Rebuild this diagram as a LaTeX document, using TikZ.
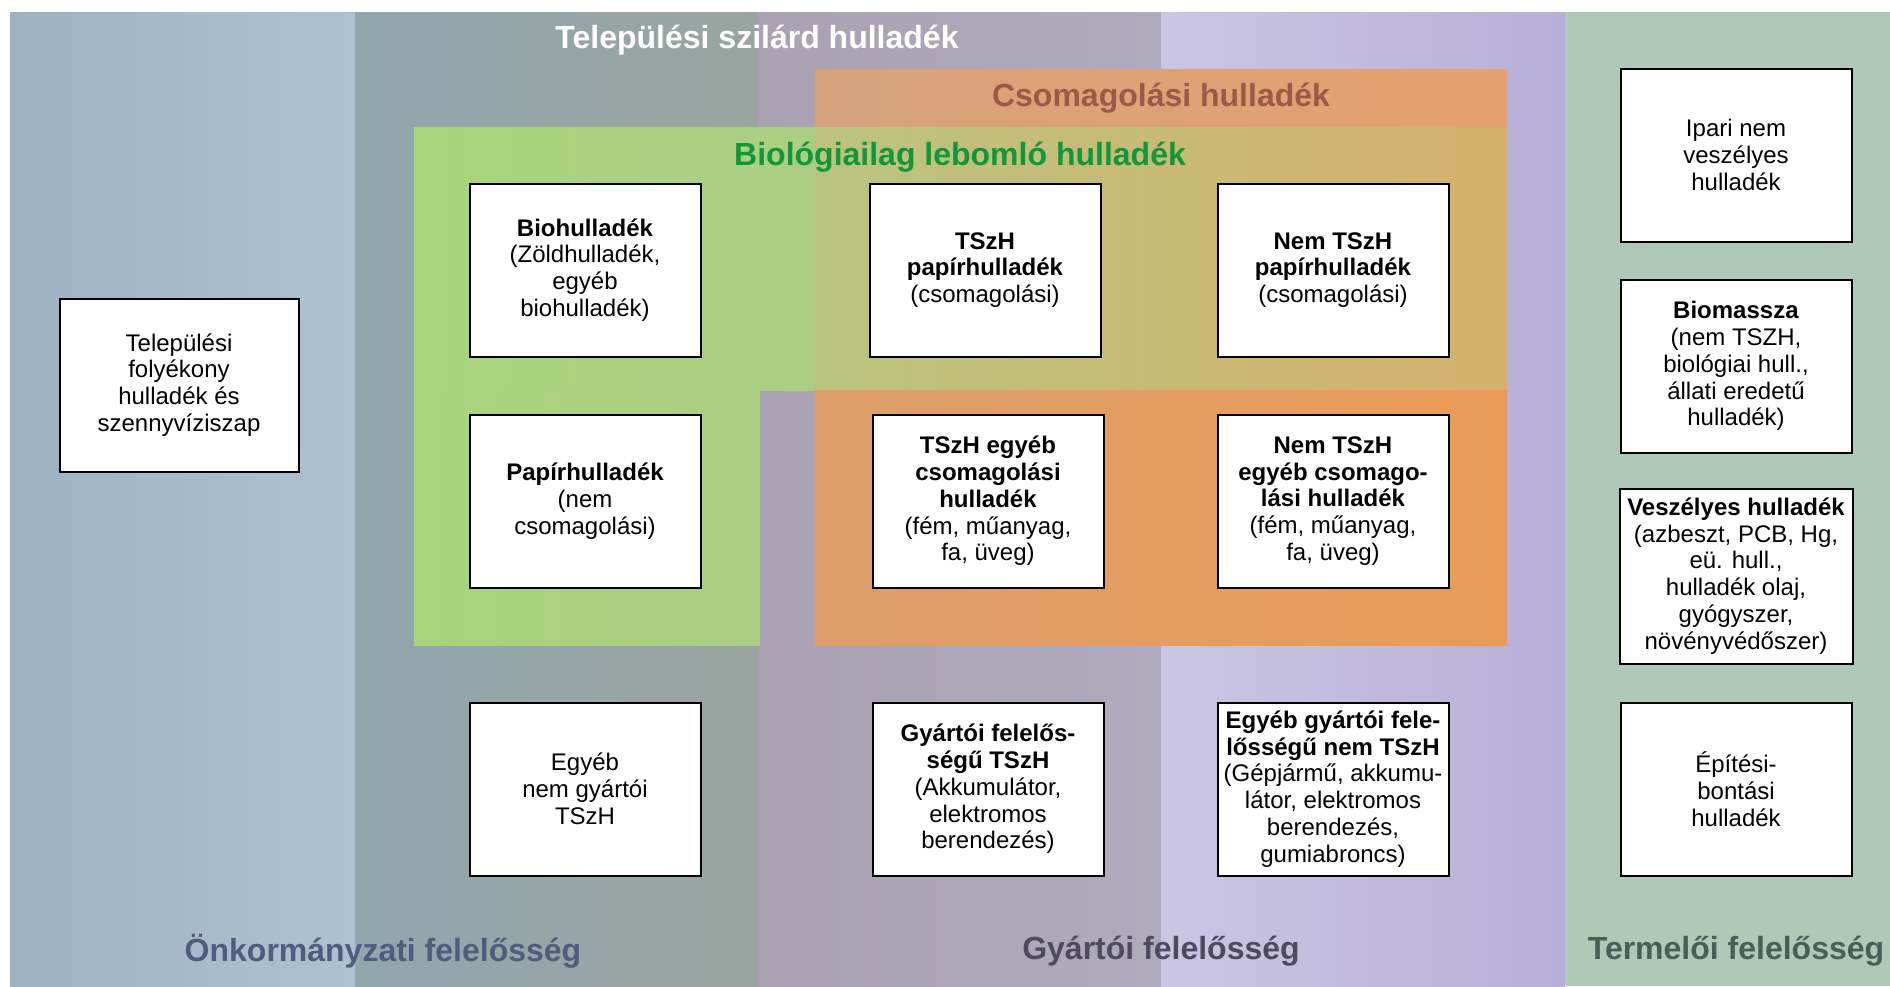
\documentclass[tikz,border=0pt]{standalone}
\usepackage{fontspec}
\setmainfont{Liberation Sans}
\usepackage{xcolor}
\usepackage{tikz}
\usetikzlibrary{positioning}
\definecolor{onkL}{RGB}{157,178,196}
\definecolor{onkR}{RGB}{174,193,208}
\definecolor{tszL}{RGB}{146,166,174}
\definecolor{tszR}{RGB}{154,165,160}
\definecolor{gyaL}{RGB}{170,162,178}
\definecolor{gyaR}{RGB}{176,170,190}
\definecolor{levL}{RGB}{202,198,228}
\definecolor{levR}{RGB}{184,174,214}
\definecolor{termC}{RGB}{175,201,184}
\definecolor{csoL}{RGB}{214,162,124}
\definecolor{csoR}{RGB}{230,161,112}
\definecolor{mixL}{RGB}{187,196,127}
\definecolor{mixR}{RGB}{212,176,108}
\definecolor{bioL}{RGB}{168,212,124}
\definecolor{bioR}{RGB}{172,206,132}
\definecolor{narL}{RGB}{221,158,106}
\definecolor{narR}{RGB}{234,155,88}
\definecolor{csoTxt}{RGB}{155,90,72}
\definecolor{bioTxt}{RGB}{18,150,58}
\definecolor{onkTxt}{RGB}{80,92,125}
\definecolor{gyaTxt}{RGB}{78,74,96}
\definecolor{termTxt}{RGB}{68,96,89}
\tikzset{box/.style={rectangle,draw=black,line width=1pt,fill=white,minimum width=115.5pt,minimum height=86.5pt,inner sep=2pt,align=center,font=\fontsize{12}{13.4}\selectfont}}
\tikzset{head/.style={inner sep=0pt,font=\fontsize{16}{19}\selectfont\bfseries}}

\begin{document}
\begin{tikzpicture}[x=0.5pt,y=-0.5pt]
    \useasboundingbox (0,0) rectangle (1890,986);
    % felelosseg oszlopok
    \shade[left color=onkL,right color=onkR] (10,12) rectangle (355,986);
    \shade[left color=tszL,right color=tszR] (355,12) rectangle (758,986);
    \shade[left color=gyaL,right color=gyaR] (758,12) rectangle (1161,986);
    \shade[left color=levL,right color=levR] (1161,12) rectangle (1565,986);
    \fill[termC] (1565,12) rectangle (1890,986);
    % csomagolasi es bio teruletek
    \shade[left color=csoL,right color=csoR] (815,69) rectangle (1507,127);
    \shade[left color=bioL,right color=bioR] (414,127) rectangle (815,390);
    \shade[left color=mixL,right color=mixR] (815,127) rectangle (1507,390);
    \shade[left color=bioL,right color=bioR] (414,390) rectangle (760,645);
    \shade[left color=narL,right color=narR] (815,390) rectangle (1507,645);

    \node[head,white] (tsh)at (757,40) {Települési szilárd hulladék};
    \node[head,csoTxt] (cso)at (1161,98) {Csomagolási hulladék};
    \node[head,bioTxt] (blh)at (960,157) {Biológiailag lebomló hulladék};
    \node[head,onkTxt] (onk)at (383,951) {Önkormányzati felelősség};
    \node[head,gyaTxt] (gya)at (1161,951) {Gyártói felelősség};
    \node[head,termTxt] (ter)at (1736,951) {Termelői felelősség};

    \node[box,minimum width=119.5pt] (fol)at (179,385) {Települési\\folyékony\\hulladék és\\szennyvíziszap};
    \node[box] (bio)at (585,270) {\textbf{Biohulladék}\\(Zöldhulladék,\\egyéb\\biohulladék)};
    \node[box] (tpa)at (985,270) {\textbf{TSzH}\\\textbf{papírhulladék}\\(csomagolási)};
    \node[box] (npa)at (1333,270) {\textbf{Nem TSzH}\\\textbf{papírhulladék}\\(csomagolási)};
    \node[box] (pap)at (585,501) {\textbf{Papírhulladék}\\(nem\\csomagolási)};
    \node[box] (tcs)at (988,501) {\textbf{TSzH egyéb}\\\textbf{csomagolási}\\\textbf{hulladék}\\(fém, műanyag,\\fa, üveg)};
    \node[box] (ncs)at (1333,501) {\textbf{Nem TSzH}\\\textbf{egyéb csomago-}\\\textbf{lási hulladék}\\(fém, műanyag,\\fa, üveg)};
    \node[box] (egy)at (585,789) {Egyéb\\nem gyártói\\TSzH};
    \node[box] (gyt)at (988,789) {\textbf{Gyártói felelős-}\\\textbf{ségű TSzH}\\(Akkumulátor,\\elektromos\\berendezés)};
    \node[box] (egn)at (1333,789) {\textbf{Egyéb gyártói fele-}\\\textbf{lősségű nem TSzH}\\(Gépjármű, akkumu-\\látor, elektromos\\berendezés,\\gumiabroncs)};
    \node[box] (ipa)at (1736,155) {Ipari nem\\veszélyes\\hulladék};
    \node[box] (bms)at (1736,366) {\textbf{Biomassza}\\(nem TSZH,\\biológiai hull.,\\állati eredetű\\hulladék)};
    \node[box,minimum width=116.5pt,minimum height=87.5pt] (vsz)at (1736,576) {\textbf{Veszélyes hulladék}\\(azbeszt, PCB, Hg,\\eü. hull.,\\hulladék olaj,\\gyógyszer,\\növényvédőszer)};
    \node[box] (epi)at (1736,789) {Építési-\\bontási\\hulladék};
\end{tikzpicture}
\end{document}
